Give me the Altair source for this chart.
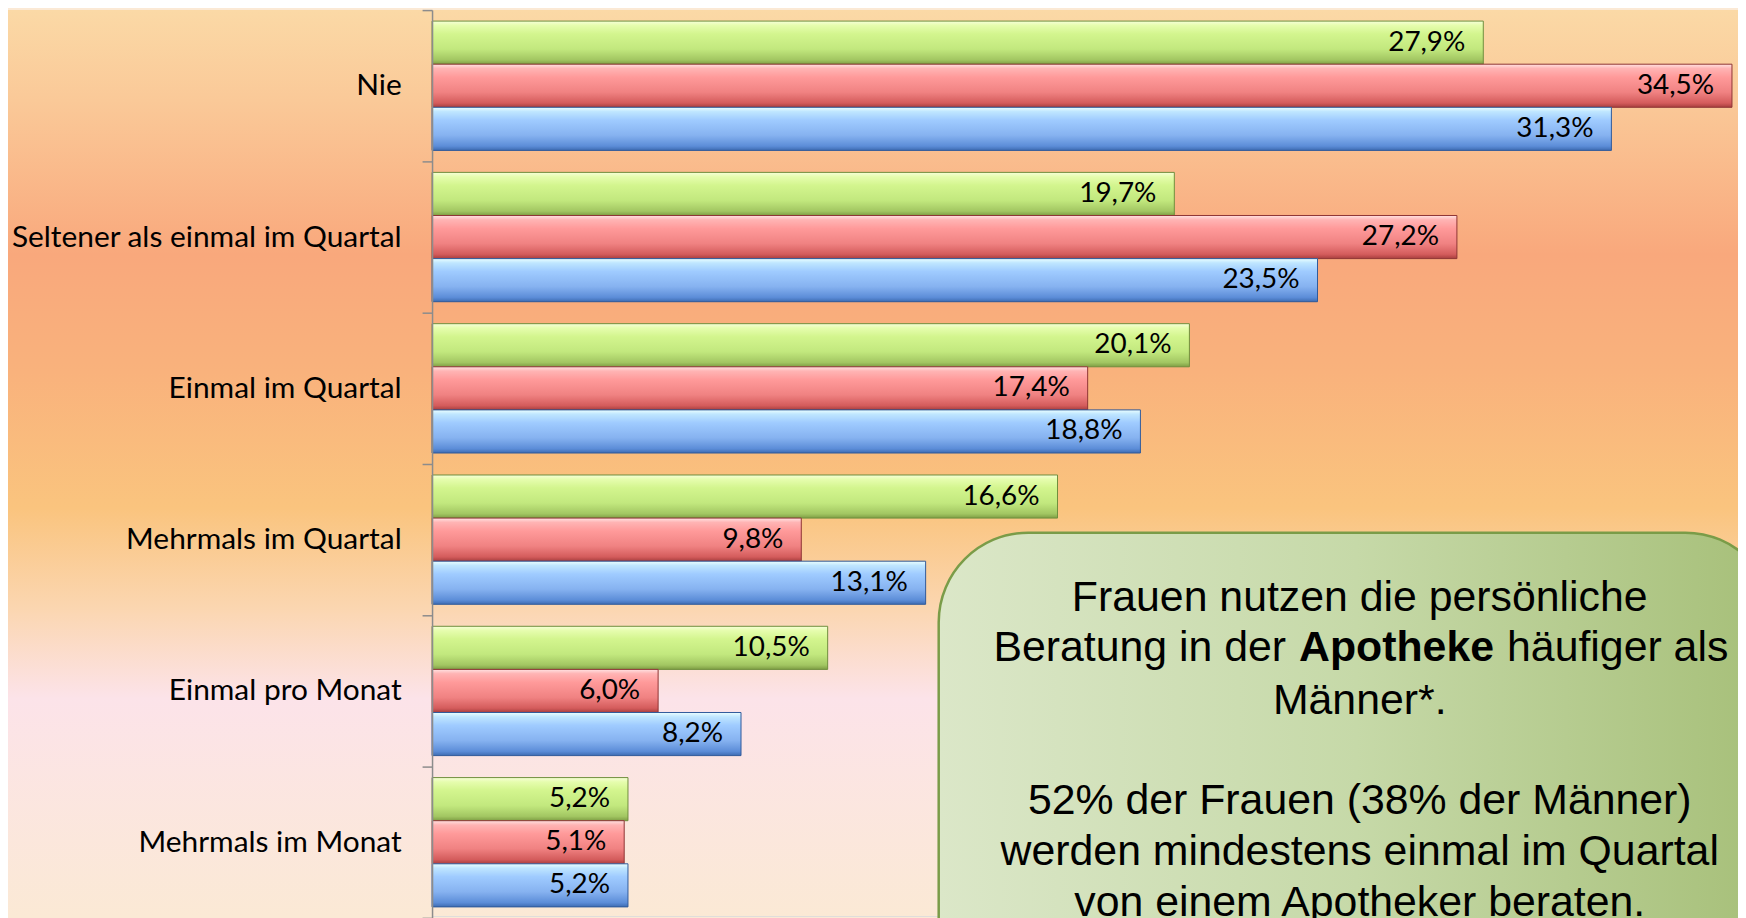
import altair as alt
import pandas as pd

categories = ["Nie", "Seltener als einmal im Quartal", "Einmal im Quartal",
              "Mehrmals im Quartal", "Einmal pro Monat", "Mehrmals im Monat"]
series = ["Frauen", "Männer", "Gesamt"]
frauen = [27.9, 19.7, 20.1, 16.6, 10.5, 5.2]
maenner = [34.5, 27.2, 17.4, 9.8, 6.0, 5.1]
gesamt = [31.3, 23.5, 18.8, 13.1, 8.2, 5.2]

box_line1 = "Frauen nutzen die persönliche"
box_line2a = "Beratung in der"
box_line2b = "Apotheke"
box_line2c = "häufiger als"
box_line3 = "Männer*."
box_line4 = "52% der Frauen (38% der Männer)"
box_line5 = "werden mindestens einmal im Quartal"
box_line6 = "von einem Apotheker beraten."

rows = []
for s, vals in zip(series, [frauen, maenner, gesamt]):
    for c, v in zip(categories, vals):
        rows.append({"Kategorie": c, "Gruppe": s, "Wert": v,
                     "Label": f"{v:.1f}".replace(".", ",") + "%"})
df = pd.DataFrame(rows)

W, H = 1312, 910


def vgrad(stops):
    return {"gradient": "linear", "x1": 0, "y1": 0, "x2": 0, "y2": 1,
            "stops": [{"offset": o, "color": c} for o, c in stops]}


def hgrad(stops):
    return {"gradient": "linear", "x1": 0, "y1": 0, "x2": 1, "y2": 0,
            "stops": [{"offset": o, "color": c} for o, c in stops]}


bg_fill = vgrad([(0, "#FBD9A6"), (0.1, "#FAC998"), (0.27, "#F9A87C"),
                 (0.4, "#F9B27C"), (0.55, "#FAC47E"), (0.66, "#FBD6B0"),
                 (0.76, "#FCE3E9"), (1, "#FBE9D5")])

bar_fills = {
    "Frauen": (vgrad([(0, "#F6FFD8"), (0.1, "#E6FDAE"), (0.3, "#D3F58E"),
                      (0.65, "#C2E87E"), (0.9, "#A2C662"), (1, "#7E9E44")]), "#6F8E3C"),
    "Männer": (vgrad([(0, "#FFE2E2"), (0.1, "#FFB4B4"), (0.3, "#FF9A9A"),
                      (0.65, "#F08282"), (0.9, "#D45C5C"), (1, "#A83E3E")]), "#8E3434"),
    "Gesamt": (vgrad([(0, "#EBFFFF"), (0.1, "#BFE6FF"), (0.3, "#9FCBFF"),
                      (0.65, "#86B2F0"), (0.9, "#5C8DD8"), (1, "#3E6CB2")]), "#2F5A9A"),
}

y_enc = alt.Y("Kategorie:N", sort=categories, title=None,
              scale=alt.Scale(domain=categories, range=[0, 912],
                              paddingInner=0, paddingOuter=0),
              axis=alt.Axis(labelFont="Lato", labelFontSize=30, labelColor="#000000",
                            labelPadding=21, tickSize=10, tickColor="#8C8C8C",
                            tickWidth=1.5, domainColor="#8C8C8C", domainWidth=1.5,
                            tickBand="extent", labelLimit=500, zindex=1))
yoff_enc = alt.YOffset("Gruppe:N", scale=alt.Scale(domain=series, paddingOuter=0.255,
                                                   paddingInner=0))
x_enc = alt.X("Wert:Q", scale=alt.Scale(domain=[0, 34.66], nice=False, zero=True),
              axis=None)

bg = alt.Chart(pd.DataFrame({"k": [0]})).mark_rect(fill=bg_fill).encode(
    x=alt.value(-426), x2=alt.value(W), y=alt.value(0), y2=alt.value(H))

layers = [bg]
for s in series:
    fill, stroke = bar_fills[s]
    layers.append(
        alt.Chart(df).transform_filter(alt.datum.Gruppe == s)
        .mark_bar(fill=fill, stroke=stroke, strokeWidth=1)
        .encode(x=x_enc, y=y_enc, yOffset=yoff_enc)
    )

labels = alt.Chart(df).mark_text(align="right", dx=-18, baseline="middle",
                                 font="Lato", fontSize=28, color="#000000").encode(
    x=x_enc, y=y_enc, yOffset=yoff_enc, text="Label:N")
layers.append(labels)

box = alt.Chart(pd.DataFrame({"k": [0]})).mark_rect(
    fill=hgrad([(0, "#DBE7C8"), (0.5, "#C6D9A8"), (1, "#A6BF78")]),
    stroke="#7A9C48", strokeWidth=2.5, cornerRadius=90).encode(
    x=alt.value(509), x2=alt.value(1349), y=alt.value(525), y2=alt.value(1100))
layers.append(box)


def txt(t, x, y, align="center", weight="normal"):
    return alt.Chart(pd.DataFrame({"t": [t]})).mark_text(
        align=align, baseline="alphabetic", font="Liberation Sans", fontSize=43,
        fontWeight=weight, color="#000000").encode(
        text="t:N", x=alt.value(x), y=alt.value(y))


CX = 932
layers += [
    txt(box_line1, CX, 604),
    txt(box_line2a, 858, 654, align="right"),
    txt(box_line2b, 871, 654, align="left", weight="bold"),
    txt(box_line2c, 1080, 654, align="left"),
    txt(box_line3, CX, 707),
    txt(box_line4, CX, 808),
    txt(box_line5, CX, 859),
    txt(box_line6, CX, 910),
]

chart = alt.layer(*layers).properties(
    width=W, height=H,
    autosize=alt.AutoSizeParams(type="none"),
    padding={"left": 426, "top": 0, "right": 0, "bottom": 0},
).configure_view(stroke=None).configure(background="#FBE9D5")

chart.save("out.html", embed_options={"renderer": "svg", "actions": False})
